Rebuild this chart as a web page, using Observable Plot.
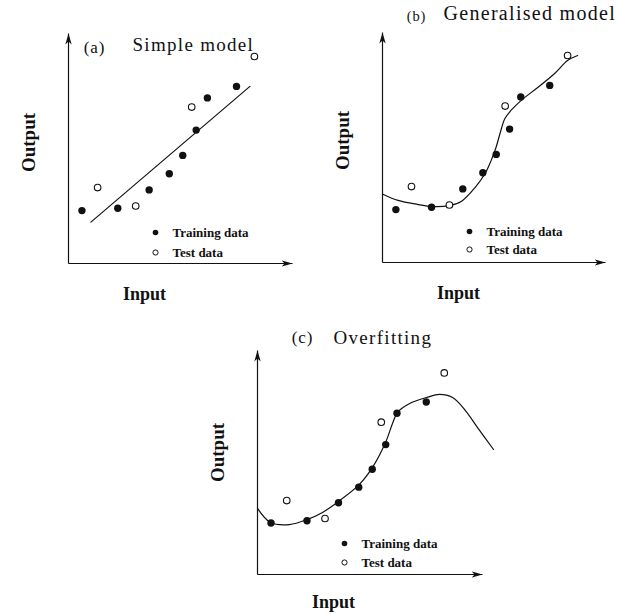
<!DOCTYPE html>
<html>
<head>
<meta charset="utf-8">
<script src="https://cdn.jsdelivr.net/npm/d3@7"></script>
<script src="https://cdn.jsdelivr.net/npm/@observablehq/plot@0.6"></script>
<style>
  body { margin: 0; background: #fff; }
  #figure { position: relative; width: 617px; height: 614px; overflow: hidden; }
  #figure svg { position: absolute; overflow: visible; }
  text[aria-label="panel title"] { letter-spacing: 1.3px; }
  text[aria-label="panel tag"] { letter-spacing: 0.8px; }
</style>
</head>
<body>
<div id="figure"></div>
<script>
// Observations shared by all three panels
const trainInput  = [6, 22, 36, 45, 51, 57, 62, 75];
const trainOutput = [23, 24, 32, 39, 47, 58, 72, 77];
const testInput   = [13, 30, 55, 83];
const testOutput  = [33, 25, 68, 90];

// (a) straight-line fit
const simpleInput  = [10, 81];
const simpleOutput = [18, 77];

// (b) smooth fit that generalises
const generalInput  = [0.4, 7, 16, 22, 30.4, 35.3, 41.5, 46, 48.7, 50.9, 52.7, 54.9, 57.6, 62.1, 69.6, 77.2, 83, 87.5];
const generalOutput = [29.6, 27, 25.2, 24.3, 24.8, 26.5, 32.6, 38.7, 44.3, 50, 56.1, 62.6, 66.1, 70.4, 76.1, 82.2, 87.8, 90];

// (c) fit that follows the training points too closely
const overfitInput  = [0, 5.8, 14.2, 22.2, 28.9, 36, 45.3, 51.1, 56.9, 60, 62.2, 67.6, 75.1, 80.9, 86.7, 92.4, 98.7, 104.9];
const overfitOutput = [29.5, 23.2, 22.3, 24.6, 27.7, 32.6, 40.2, 47.8, 58.9, 67.4, 72.3, 76.3, 79, 80.4, 79, 73.2, 64.3, 55.8];

const panelTags   = ["(a)", "(b)", "(c)"];
const panelTitles = ["Simple model", "Generalised model", "Overfitting"];
const legendLabels = ["Training data", "Test data"];
const xLabel = "Input";
const yLabel = "Output";

const xDomain = [0, 100];
const yDomain = [0, 100];

const toRows = (xs, ys) => xs.map((x, i) => ({input: x, output: ys[i]}));
const training = toRows(trainInput, trainOutput);
const testing = toRows(testInput, testOutput);
const fits = [
  toRows(simpleInput, simpleOutput),
  toRows(generalInput, generalOutput),
  toRows(overfitInput, overfitOutput)
];

// filled, slender arrowhead for the axis ends
function arrowHead(color) {
  const m = d3.create("svg:marker")
    .attr("viewBox", "-11 -3.2 11 6.4")
    .attr("markerWidth", 11)
    .attr("markerHeight", 6.4)
    .attr("markerUnits", "userSpaceOnUse")
    .attr("orient", "auto")
    .attr("fill", color)
    .attr("stroke", "none");
  m.append("path").attr("d", "M-11,-3.2L0,0L-11,3.2L-8,0Z");
  return m.node();
}

const serif = "'Liberation Serif', 'Times New Roman', Times, serif";

const layouts = [
  {left: 0,   top: 0,   width: 308, height: 310, mt: 33, mr: 16, mb: 47, ml: 68,
   curve: "linear",      tagDx: 26, tagDy: 19,  tagSize: 17,   titleDx: 64, titleDy: 17,  titleSize: 19,
   legendDy: [-31, -11], inputDy: 31, outputDy: -6},
  {left: 314, top: 0,   width: 303, height: 310, mt: 32, mr: 12, mb: 48, ml: 68,
   curve: "catmull-rom", tagDx: 34, tagDy: -12, tagSize: 14.5, titleDx: 61, titleDy: -13, titleSize: 20,
   legendDy: [-31, -13], inputDy: 31, outputDy: -7},
  {left: 190, top: 300, width: 320, height: 314, mt: 50, mr: 28, mb: 40, ml: 67,
   curve: "catmull-rom", tagDx: 45, tagDy: -8,  tagSize: 17,   titleDx: 76, titleDy: -7,  titleSize: 19,
   legendDy: [-31, -12], inputDy: 28, outputDy: -10}
];

const figure = document.getElementById("figure");

layouts.forEach((L, p) => {
  const axes = [
    {x1: xDomain[0], y1: yDomain[0], x2: xDomain[0], y2: yDomain[1]},
    {x1: xDomain[0], y1: yDomain[0], x2: xDomain[1], y2: yDomain[0]}
  ];
  const svg = Plot.plot({
    width: L.width,
    height: L.height,
    marginTop: L.mt,
    marginRight: L.mr,
    marginBottom: L.mb,
    marginLeft: L.ml,
    x: {domain: xDomain, axis: null},
    y: {domain: yDomain, axis: null},
    style: {background: "transparent", fontFamily: serif, color: "#111", overflow: "visible"},
    marks: [
      Plot.link(axes, {x1: "x1", y1: "y1", x2: "x2", y2: "y2", stroke: "#111", strokeWidth: 1.2, markerEnd: arrowHead}),
      Plot.line(fits[p], {x: "input", y: "output", curve: L.curve, stroke: "#111", strokeWidth: 1.2}),
      Plot.dot(training, {x: "input", y: "output", r: 3.7, fill: "#111", stroke: "none"}),
      Plot.dot(testing, {x: "input", y: "output", r: 3.3, fill: "white", stroke: "#111", strokeWidth: 1.1}),
      // panel heading
      Plot.text([panelTags[p]], {text: d => d, frameAnchor: "top-left", textAnchor: "middle", lineAnchor: "bottom",
        dx: L.tagDx, dy: L.tagDy, fontSize: L.tagSize, fill: "#111", ariaLabel: () => "panel tag"}),
      Plot.text([panelTitles[p]], {text: d => d, frameAnchor: "top-left", textAnchor: "start", lineAnchor: "bottom",
        dx: L.titleDx, dy: L.titleDy, fontSize: L.titleSize, fill: "#111", ariaLabel: () => "panel title"}),
      // legend
      Plot.dot([legendLabels[0]], {frameAnchor: "bottom-left", dx: 87, dy: L.legendDy[0], r: 2.8, fill: "#111", stroke: "none"}),
      Plot.dot([legendLabels[1]], {frameAnchor: "bottom-left", dx: 87, dy: L.legendDy[1], r: 2.6, fill: "white", stroke: "#111", strokeWidth: 1}),
      Plot.text([legendLabels[0]], {text: d => d, frameAnchor: "bottom-left", textAnchor: "start", lineAnchor: "middle",
        dx: 104, dy: L.legendDy[0], fontSize: 13, fontWeight: "bold", fill: "#111"}),
      Plot.text([legendLabels[1]], {text: d => d, frameAnchor: "bottom-left", textAnchor: "start", lineAnchor: "middle",
        dx: 104, dy: L.legendDy[1], fontSize: 13, fontWeight: "bold", fill: "#111"}),
      // axis names
      Plot.text([xLabel], {text: d => d, frameAnchor: "bottom-left", textAnchor: "middle", lineAnchor: "middle",
        dx: 76, dy: L.inputDy, fontSize: 18, fontWeight: "bold", fill: "#111"}),
      Plot.text([yLabel], {text: d => d, frameAnchor: "left", textAnchor: "middle", lineAnchor: "middle", rotate: -90,
        dx: -40, dy: L.outputDy, fontSize: 19, fontWeight: "bold", fill: "#111"})
    ]
  });
  svg.style.left = L.left + "px";
  svg.style.top = L.top + "px";
  figure.appendChild(svg);
});
</script>
</body>
</html>
